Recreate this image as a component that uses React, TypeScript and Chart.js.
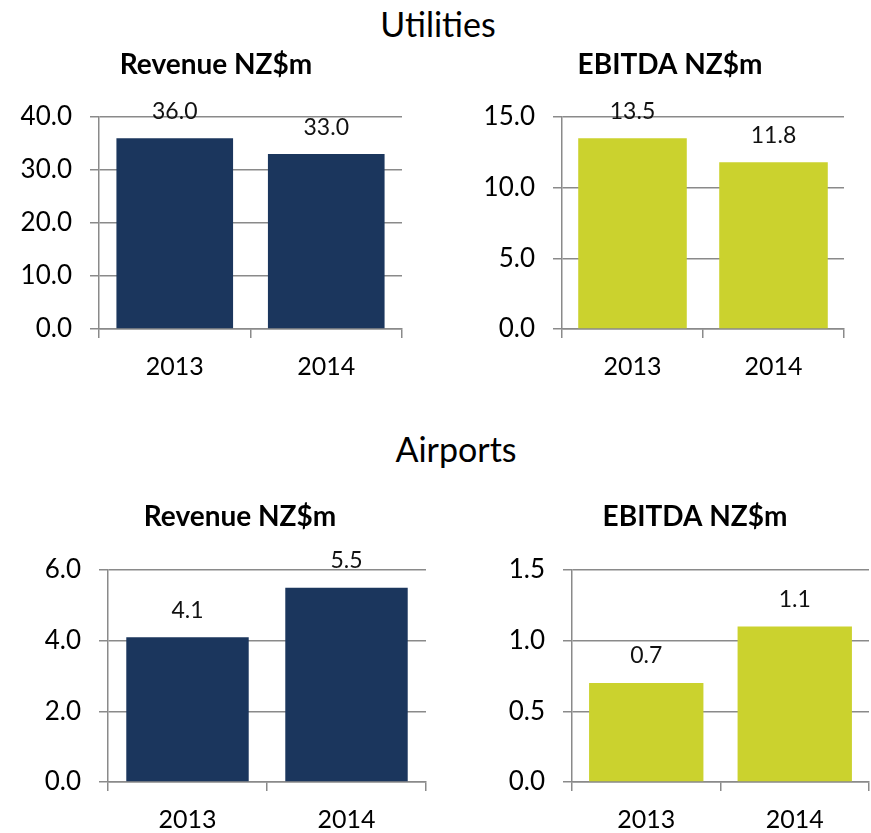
import React, { useEffect, useRef } from "react";
import { Chart, registerables } from "chart.js";

Chart.register(...registerables);

const years = ["2013", "2014"];
const utilitiesRevenue = [36.0, 33.0];
const utilitiesEbitda = [13.5, 11.8];
const airportsRevenue = [4.1, 5.5];
const airportsEbitda = [0.7, 1.1];

const NAVY = "#1b365d";
const LIME = "#cbd22e";
const GRID = "#8a8a8a";
const FONT = "Lato, 'Open Sans', sans-serif";

const valueLabels = {
  id: "valueLabels",
  afterDatasetsDraw(chart: any) {
    const ctx = chart.ctx;
    const meta = chart.getDatasetMeta(0);
    const data = chart.data.datasets[0].data;
    ctx.save();
    ctx.fillStyle = "#111";
    ctx.font = `23px ${FONT}`;
    ctx.textAlign = "center";
    ctx.textBaseline = "middle";
    meta.data.forEach((bar: any, i: number) => {
      ctx.fillText(Number(data[i]).toFixed(1), bar.x, bar.y - 27);
    });
    ctx.restore();
  },
};

const panelTitle = {
  id: "panelTitle",
  afterDraw(chart: any, _args: any, opts: any) {
    if (!opts || !opts.text) return;
    const ctx = chart.ctx;
    ctx.save();
    ctx.fillStyle = "#000";
    ctx.font = `bold 28px ${FONT}`;
    ctx.textAlign = "center";
    ctx.textBaseline = "middle";
    ctx.fillText(opts.text, opts.x, opts.y);
    ctx.restore();
  },
};

type Geo = {
  canvasLeft: number;
  titleX: number;
  titleY: number;
  plotLeft: number;
  plotRight: number;
  plotTop: number;
  plotBottom: number;
  top: number;
  bottom: number;
};

function BarPanel(props: {
  title: string;
  values: number[];
  color: string;
  max: number;
  step: number;
  geo: Geo;
}) {
  const ref = useRef<HTMLCanvasElement>(null);
  const g = props.geo;
  const canvasRight = g.plotRight + 1;
  const canvasLeft = g.canvasLeft;
  const width = canvasRight - canvasLeft;
  const height = g.bottom - g.top;

  useEffect(() => {
    if (!ref.current) return;
    const chart = new Chart(ref.current, {
      type: "bar",
      data: {
        labels: years,
        datasets: [
          {
            data: props.values,
            backgroundColor: props.color,
            barPercentage: 0.77,
            categoryPercentage: 1,
          },
        ],
      },
      plugins: [valueLabels, panelTitle],
      options: {
        animation: false,
        responsive: false,
        maintainAspectRatio: false,
        layout: {
          padding: { left: 0, right: 1, top: g.plotTop - g.top, bottom: 0 },
        },
        plugins: {
          legend: { display: false },
          tooltip: { enabled: false },
          title: { display: false },
          panelTitle: {
            text: props.title,
            x: g.titleX - canvasLeft,
            y: g.titleY - g.top,
          },
        } as any,
        scales: {
          x: {
            offset: true,
            grid: {
              display: true,
              offset: true,
              drawOnChartArea: false,
              drawTicks: true,
              tickLength: 9,
              color: GRID,
              lineWidth: 1.5,
            },
            border: { display: true, color: GRID, width: 1.5 },
            ticks: {
              color: "#000",
              font: { family: FONT, size: 25 },
              padding: 14,
            },
            afterFit: (s: any) => {
              s.height = g.bottom - g.plotBottom;
            },
          },
          y: {
            min: 0,
            max: props.max,
            ticks: {
              stepSize: props.step,
              color: "#000",
              font: { family: FONT, size: 26 },
              padding: 18,
              callback: (v: any) => Number(v).toFixed(1),
            },
            grid: {
              color: GRID,
              lineWidth: 1.5,
              tickLength: 9,
              drawTicks: true,
            },
            border: { display: true, color: GRID, width: 1.5 },
            afterFit: (s: any) => {
              s.width = g.plotLeft - canvasLeft;
            },
          },
        },
      },
    });
    return () => chart.destroy();
  }, []);

  return (
    <canvas
      ref={ref}
      width={width}
      height={height}
      style={{
        position: "absolute",
        left: canvasLeft,
        top: g.top,
        width,
        height,
      }}
    />
  );
}

const sectionStyle: React.CSSProperties = {
  position: "absolute",
  fontFamily: FONT,
  fontSize: 34,
  color: "#000",
  transform: "translate(-50%, -50%)",
  whiteSpace: "nowrap",
  lineHeight: 1,
};

export default function App() {
  return (
    <div
      style={{
        position: "absolute",
        left: 0,
        top: 0,
        width: 871,
        height: 833,
        background: "#fff",
        overflow: "hidden",
      }}
    >
      <div style={{ ...sectionStyle, left: 438, top: 24 }}>Utilities</div>
      <div style={{ ...sectionStyle, left: 456, top: 449 }}>Airports</div>
      <BarPanel
        title="Revenue NZ$m"
        values={utilitiesRevenue}
        color={NAVY}
        max={40}
        step={10}
        geo={{ canvasLeft: 0, titleX: 216, titleY: 65, plotLeft: 99, plotRight: 402, plotTop: 117, plotBottom: 329, top: 40, bottom: 395 }}
      />
      <BarPanel
        title="EBITDA NZ$m"
        values={utilitiesEbitda}
        color={LIME}
        max={15}
        step={5}
        geo={{ canvasLeft: 440, titleX: 670, titleY: 65, plotLeft: 562, plotRight: 844, plotTop: 117, plotBottom: 329, top: 40, bottom: 395 }}
      />
      <BarPanel
        title="Revenue NZ$m"
        values={airportsRevenue}
        color={NAVY}
        max={6}
        step={2}
        geo={{ canvasLeft: 0, titleX: 240, titleY: 517, plotLeft: 108, plotRight: 426, plotTop: 570, plotBottom: 782, top: 480, bottom: 833 }}
      />
      <BarPanel
        title="EBITDA NZ$m"
        values={airportsEbitda}
        color={LIME}
        max={1.5}
        step={0.5}
        geo={{ canvasLeft: 440, titleX: 695, titleY: 517, plotLeft: 572, plotRight: 869, plotTop: 570, plotBottom: 782, top: 480, bottom: 833 }}
      />
    </div>
  );
}
